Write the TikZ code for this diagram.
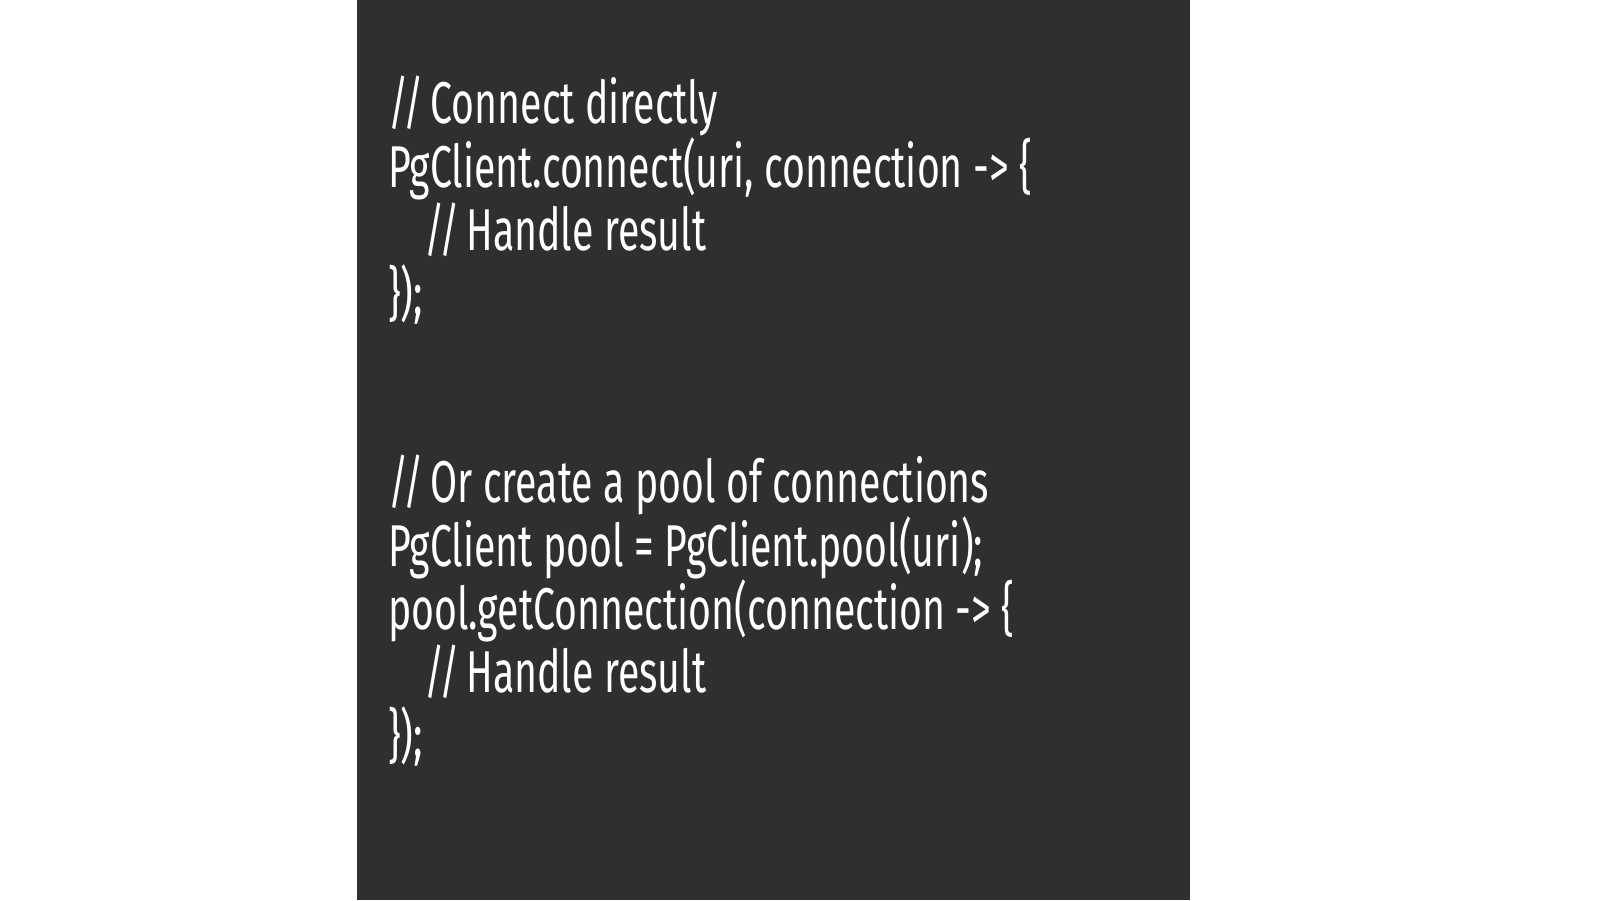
\documentclass[tikz,border=0pt]{standalone}
\usepackage{fontspec}
\setmainfont{Fira Sans}[FakeStretch=0.665]
\definecolor{panel}{RGB}{46,48,47}
\definecolor{codetext}{RGB}{255,255,255}
\tikzset{
  codeline/.style={anchor=base west, inner sep=0pt, outer sep=0pt, text=codetext,
    font=\fontsize{59pt}{63pt}\selectfont}
}
\begin{document}
\begin{tikzpicture}[x=1pt,y=-1pt]
\useasboundingbox (0,0) rectangle (1600,900);
\fill[white] (0,0) rectangle (1600,900);
\fill[panel] (357,0) rectangle (1190,900);
\node[codeline] (l1) at (388,123) {//\kern-4pt{} Connect directly};
\node[codeline] (l2) at (388,187) {PgClient.connect(uri, connection -> \{};
\node[codeline] (l3) at (424,250) {//\kern-4pt{} Handle result};
\node[codeline] (l4) at (388,314) {\});};
\node[codeline] (l5) at (388,502) {//\kern-4pt{} Or create a pool of connections};
\node[codeline] (l6) at (388,566) {PgClient pool = PgClient.pool(uri);};
\node[codeline] (l7) at (388,629) {pool.getConnection(connection -> \{};
\node[codeline] (l8) at (424,692) {//\kern-4pt{} Handle result};
\node[codeline] (l9) at (388,756) {\});};
\end{tikzpicture}
\end{document}
